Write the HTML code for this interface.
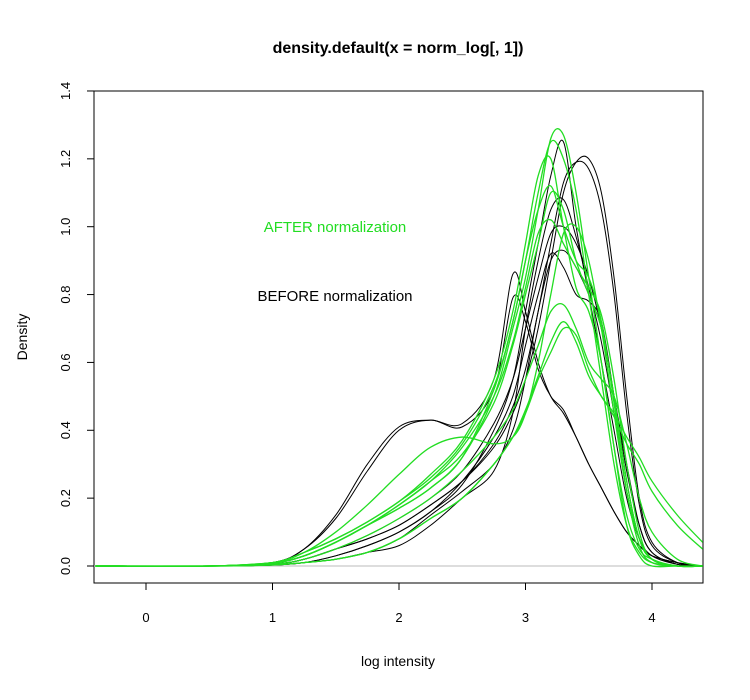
<!DOCTYPE html>
<html><head><meta charset="utf-8"><style>
body{margin:0;background:#fff;}
svg{display:block;font-family:"Liberation Sans",sans-serif;}
</style></head><body>
<svg id="chart" width="750" height="700">
<text x="398" y="53" text-anchor="middle" font-size="16" font-weight="bold">density.default(x = norm_log[, 1])</text>
<text x="398" y="666" text-anchor="middle" font-size="14">log intensity</text>
<text transform="translate(27,337) rotate(-90)" text-anchor="middle" font-size="14">Density</text>
<text x="335" y="232" text-anchor="middle" font-size="15" fill="#22dd22">AFTER normalization</text>
<text x="335" y="301" text-anchor="middle" font-size="15" fill="#000">BEFORE normalization</text>
<rect x="94" y="91" width="609" height="492" fill="none" stroke="#000"/>
<g id="axes"></g>
<line id="zeroline" stroke="#bbb"/>
<g id="series"></g>
</svg>
<script>
const xGrid=[-0.4,0.5,1,1.25,1.5,1.75,2,2.25,2.5,2.75,2.9,3,3.1,3.2,3.3,3.4,3.5,3.6,3.7,3.8,3.9,4,4.2,4.4];
const xTicks=[0,1,2,3,4];
const yTicks=[0,0.2,0.4,0.6,0.8,1.0,1.2,1.4];
const yTickLabels=["0.0","0.2","0.4","0.6","0.8","1.0","1.2","1.4"];
const black1=[0,0,0.01,0.05,0.15,0.3,0.41,0.43,0.42,0.55,0.86,0.75,0.6,0.5,0.45,0.38,0.3,0.23,0.16,0.1,0.06,0.03,0.01,0];
const black1b=[0,0,0.01,0.05,0.14,0.28,0.4,0.43,0.41,0.52,0.79,0.72,0.58,0.5,0.46,0.38,0.3,0.23,0.16,0.1,0.06,0.03,0.01,0];
const black2=[0,0,0.005,0.02,0.05,0.08,0.12,0.18,0.25,0.35,0.45,0.55,0.7,0.9,1.1,1.19,1.2,1.1,0.85,0.5,0.2,0.07,0.01,0];
const black2b=[0,0,0.005,0.02,0.05,0.08,0.12,0.18,0.25,0.36,0.47,0.58,0.75,0.95,1.13,1.19,1.17,1.05,0.8,0.45,0.18,0.06,0.01,0];
const black3=[0,0,0.003,0.01,0.03,0.06,0.1,0.16,0.24,0.4,0.55,0.75,0.95,1.15,1.25,1.0,0.8,0.6,0.4,0.2,0.08,0.03,0.005,0];
const black4=[0,0,0.005,0.02,0.05,0.09,0.14,0.2,0.28,0.42,0.55,0.7,0.85,0.98,1.0,0.95,0.85,0.7,0.5,0.28,0.12,0.04,0.005,0];
const black5=[0,0,0.003,0.01,0.02,0.04,0.08,0.15,0.22,0.3,0.4,0.55,0.75,0.9,0.93,0.88,0.8,0.7,0.5,0.3,0.12,0.04,0.005,0];
const black6=[0,0,0.003,0.01,0.02,0.04,0.06,0.12,0.2,0.28,0.45,0.7,0.9,1.05,1.08,0.97,0.82,0.66,0.45,0.22,0.08,0.02,0,0];
const black7=[0,0,0.003,0.01,0.03,0.06,0.1,0.16,0.25,0.38,0.5,0.65,0.8,0.92,0.88,0.8,0.78,0.72,0.5,0.25,0.08,0.02,0,0];
const green1=[0,0,0.008,0.03,0.07,0.12,0.17,0.23,0.32,0.5,0.7,0.85,1.05,1.26,1.27,1.1,0.85,0.6,0.35,0.15,0.05,0.02,0,0];
const green1b=[0,0,0.008,0.03,0.07,0.12,0.17,0.23,0.32,0.52,0.72,0.9,1.1,1.25,1.2,1.05,0.8,0.55,0.3,0.12,0.04,0.01,0,0];
const green2=[0,0,0.003,0.01,0.02,0.04,0.08,0.14,0.2,0.3,0.38,0.45,0.55,0.63,0.7,0.68,0.58,0.5,0.45,0.38,0.32,0.25,0.15,0.07];
const green2b=[0,0,0.003,0.01,0.02,0.04,0.08,0.14,0.2,0.3,0.38,0.46,0.56,0.66,0.72,0.66,0.56,0.5,0.44,0.36,0.3,0.22,0.12,0.05];
const green3=[0,0,0.01,0.04,0.1,0.18,0.27,0.35,0.38,0.36,0.38,0.45,0.6,0.8,0.98,1.0,0.9,0.7,0.45,0.22,0.08,0.02,0,0];
const green4=[0,0,0.01,0.03,0.07,0.12,0.18,0.25,0.33,0.48,0.65,0.8,0.95,1.1,1.05,0.9,0.8,0.7,0.5,0.25,0.08,0.02,0,0];
const green5=[0,0,0.005,0.02,0.05,0.09,0.14,0.2,0.28,0.38,0.46,0.55,0.65,0.75,0.77,0.7,0.6,0.55,0.5,0.36,0.2,0.1,0.02,0];
const green6=[0,0,0.01,0.04,0.08,0.13,0.19,0.26,0.36,0.53,0.72,0.9,1.05,1.12,1.0,0.9,0.85,0.72,0.48,0.22,0.06,0.01,0,0];
const green7=[0,0,0.01,0.03,0.07,0.12,0.18,0.25,0.35,0.5,0.66,0.82,0.98,1.02,0.95,0.88,0.82,0.74,0.55,0.3,0.1,0.02,0,0];
const green8=[0,0,0.01,0.04,0.08,0.13,0.19,0.27,0.37,0.55,0.75,0.95,1.15,1.2,1.0,0.82,0.75,0.6,0.35,0.12,0.03,0,0,0];
const blackSeries=[black1,black1b,black2,black2b,black3,black4,black5,black6,black7];
const greenSeries=[green1,green1b,green2,green2b,green3,green4,green5,green6,green7,green8];
const NS="http://www.w3.org/2000/svg";
const sx=v=>146+v*126.5, sy=v=>566-v*339.3;
const axes=document.getElementById('axes');
function mk(tag,attrs,parent){const e=document.createElementNS(NS,tag);for(const k in attrs)e.setAttribute(k,attrs[k]);parent.appendChild(e);return e;}
xTicks.forEach(t=>{
  const l=mk('line',{x1:sx(t),x2:sx(t),y1:583,y2:590,stroke:'#000'},axes);
  
  
  const tx=mk('text',{x:sx(t),y:622,'text-anchor':'middle','font-size':13},axes);tx.textContent=t;
  
  
});
yTicks.forEach((t,i)=>{
  const l=mk('line',{x1:87,x2:94,y1:sy(t),y2:sy(t),stroke:'#000'},axes);
  
  
  const tx=mk('text',{transform:`translate(70,${sy(t)}) rotate(-90)`,'text-anchor':'middle','font-size':13},axes);tx.textContent=yTickLabels[i];
  
  
});
const z=document.getElementById('zeroline');
z.setAttribute('x1',94);z.setAttribute('x2',703);z.setAttribute('y1',sy(0));z.setAttribute('y2',sy(0));
function path(vals){
  const p=xGrid.map((x,i)=>[sx(x),sy(vals[i])]);
  let d=`M${p[0][0]},${p[0][1]}`;
  for(let i=0;i<p.length-1;i++){
    const p0=p[Math.max(0,i-1)],p1=p[i],p2=p[i+1],p3=p[Math.min(p.length-1,i+2)];
    const c1=[p1[0]+(p2[0]-p0[0])/6,p1[1]+(p2[1]-p0[1])/6];
    const c2=[p2[0]-(p3[0]-p1[0])/6,p2[1]-(p3[1]-p1[1])/6];
    d+=` C${c1[0]},${c1[1]} ${c2[0]},${c2[1]} ${p2[0]},${p2[1]}`;
  }
  return d;
}
const g=document.getElementById('series');
g.setAttribute('clip-path','url(#clip)');
mk('rect',{x:94,y:91,width:609,height:492},mk('clipPath',{id:'clip'},mk('defs',{},g)));
blackSeries.forEach(s=>{
  const e=mk('path',{d:path(s),fill:'none',stroke:'#000','stroke-width':1},g);
  
  
});
greenSeries.forEach(s=>{
  const e=mk('path',{d:path(s),fill:'none',stroke:'#22dd22','stroke-width':1.3},g);
  
  
});
</script>
</body></html>
